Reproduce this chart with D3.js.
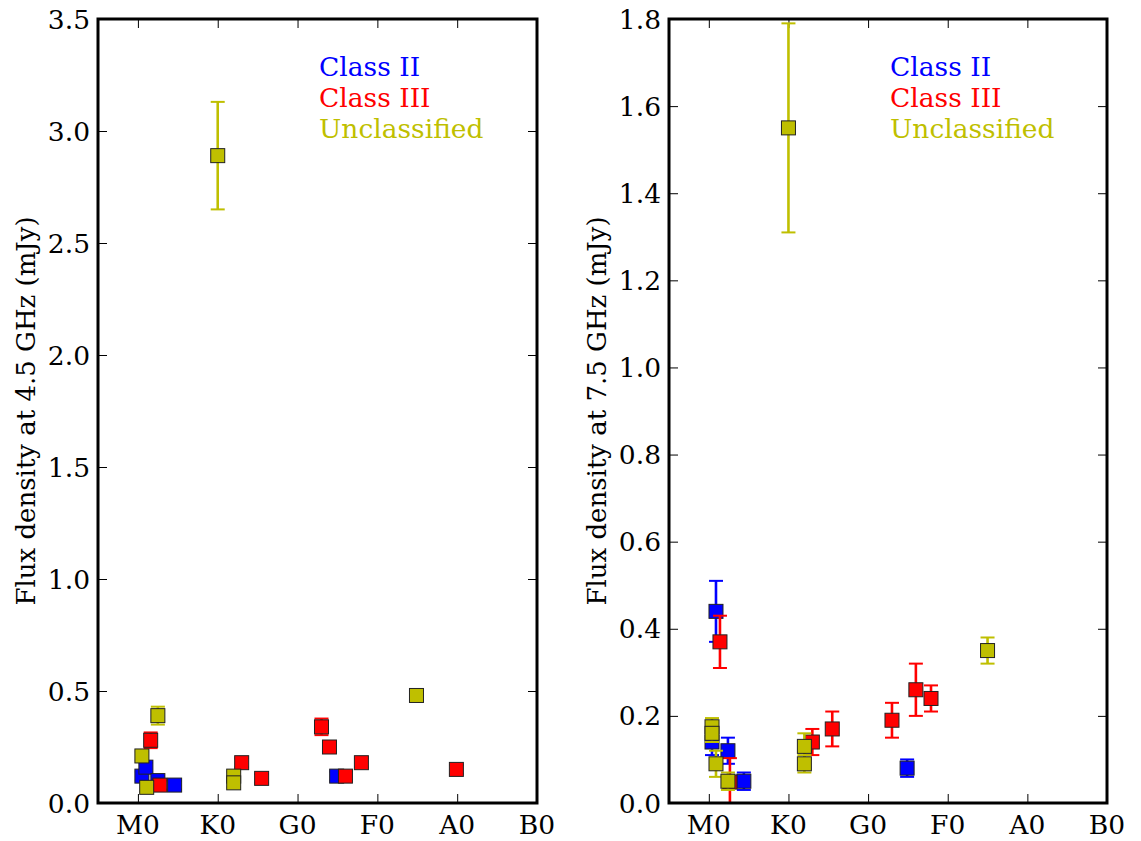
<!DOCTYPE html>
<html>
<head>
<meta charset="utf-8">
<script src="https://cdn.jsdelivr.net/npm/d3@7"></script>
<style>
  html, body { margin: 0; padding: 0; background: #fff; }
  svg { display: block; }
  svg text { font-family: "DejaVu Serif", serif; }
</style>
</head>
<body>
<svg id="chart" width="1141" height="841" font-family="DejaVu Serif, serif"></svg>
<script>
// Spectral type positions: M0=0, K0=10, G0=20, F0=30, A0=40, B0=50
const spectralTicks = [0, 10, 20, 30, 40, 50];
const spectralLabels = ["M0", "K0", "G0", "F0", "A0", "B0"];

const classNames = ["Class II", "Class III", "Unclassified"];
const classColors = ["#0000ff", "#ff0000", "#bfbf00"];

// Flux density at 4.5 GHz (mJy)
const c2x_45 = [0.5, 1.0, 2.5, 4.6, 24.9];
const c2y_45 = [0.12, 0.16, 0.10, 0.08, 0.12];
const c2e_45 = [0.02, 0.02, 0.02, 0.02, 0.02];

const c3x_45 = [1.6, 2.75, 13, 15.5, 23, 24, 26, 28, 39.9];
const c3y_45 = [0.28, 0.08, 0.18, 0.11, 0.34, 0.25, 0.12, 0.18, 0.15];
const c3e_45 = [0.035, 0.02, 0.02, 0.02, 0.037, 0.02, 0.02, 0.02, 0.02];

const ucx_45 = [0.5, 1.1, 2.5, 10, 12, 12, 34.9];
const ucy_45 = [0.21, 0.07, 0.39, 2.89, 0.12, 0.09, 0.48];
const uce_45 = [0.02, 0.02, 0.04, 0.24, 0.02, 0.02, 0.02];

// Flux density at 7.5 GHz (mJy)
const c2x_75 = [0.9, 0.4, 2.4, 4.4, 24.9];
const c2y_75 = [0.44, 0.14, 0.12, 0.05, 0.08];
const c2e_75 = [0.07, 0.03, 0.03, 0.02, 0.02];

const c3x_75 = [1.4, 2.65, 13, 15.5, 23, 26, 27.9];
const c3y_75 = [0.37, 0.048, 0.14, 0.17, 0.19, 0.26, 0.24];
const c3e_75 = [0.06, 0.055, 0.03, 0.04, 0.04, 0.06, 0.03];

const ucx_75 = [0.4, 0.4, 0.9, 2.4, 12, 12, 10, 35];
const ucy_75 = [0.175, 0.16, 0.09, 0.05, 0.13, 0.09, 1.55, 0.35];
const uce_75 = [0.02, 0.02, 0.03, 0.02, 0.03, 0.02, 0.24, 0.03];

const yTicks45 = [0, 0.5, 1.0, 1.5, 2.0, 2.5, 3.0, 3.5];
const yTicks75 = [0, 0.2, 0.4, 0.6, 0.8, 1.0, 1.2, 1.4, 1.6, 1.8];

const FONT = "DejaVu Serif, serif";
const FS = 26.5;

const svg = d3.select("#chart");

function zip(xs, ys, es) {
  return xs.map((x, i) => ({ x: x, y: ys[i], e: es[i] }));
}

function panel(opts) {
  const { left, right, top, bottom, yMax, yTicks, yLabel, series } = opts;
  const x = d3.scaleLinear().domain([-5, 50]).range([left, right]);
  const y = d3.scaleLinear().domain([0, yMax]).range([bottom, top]);
  const g = svg.append("g");

  const clipId = "clip" + Math.round(left);
  svg.append("clipPath").attr("id", clipId)
    .append("rect").attr("x", left).attr("y", top)
    .attr("width", right - left).attr("height", bottom - top);

  const tickLen = 9;
  // inward ticks on all four sides
  const axL = d3.axisRight(y).tickValues(yTicks).tickSize(tickLen).tickFormat("");
  const axR = d3.axisLeft(y).tickValues(yTicks).tickSize(tickLen).tickFormat("");
  const axB = d3.axisTop(x).tickValues(spectralTicks).tickSize(tickLen).tickFormat("");
  const axT = d3.axisBottom(x).tickValues(spectralTicks).tickSize(tickLen).tickFormat("");
  [[axL, `translate(${left},0)`], [axR, `translate(${right},0)`],
   [axB, `translate(0,${bottom})`], [axT, `translate(0,${top})`]].forEach(([ax, tr]) => {
    const a = g.append("g").attr("transform", tr).call(ax);
    a.select(".domain").remove();
    a.selectAll("line").attr("stroke", "#000").attr("stroke-width", 1);
  });

  // tick labels
  g.append("g").selectAll("text").data(yTicks).join("text")
    .attr("x", left - 8).attr("y", d => y(d))
    .attr("dy", "0.36em")
    .attr("text-anchor", "end")
    .attr("font-family", FONT)
    .attr("font-size", FS)
    .text(d => d.toFixed(1));
  g.append("g").selectAll("text").data(spectralTicks).join("text")
    .attr("x", d => x(d)).attr("y", bottom + 31)
    .attr("text-anchor", "middle")
    .attr("font-family", FONT)
    .attr("font-size", FS)
    .text((d, i) => spectralLabels[i]);

  // y-axis title
  g.append("text")
    .attr("transform", `translate(${left - 63},${(top + bottom) / 2}) rotate(-90)`)
    .attr("text-anchor", "middle")
    .attr("font-family", FONT)
    .attr("font-size", 26)
    .text(yLabel);

  // data: error bars + square markers
  const data = g.append("g").attr("clip-path", `url(#${clipId})`);
  const capHalf = 7, size = 14;
  series.forEach(s => {
    const pts = s.points;
    const sg = data.append("g");
    sg.selectAll("line.err").data(pts).join("line").attr("class", "err")
      .attr("x1", d => x(d.x)).attr("x2", d => x(d.x))
      .attr("y1", d => y(d.y - d.e)).attr("y2", d => y(d.y + d.e))
      .attr("stroke", s.color).attr("stroke-width", 2.6);
    [-1, 1].forEach(sign => {
      sg.selectAll("line.cap" + (sign > 0 ? "p" : "m")).data(pts).join("line")
        .attr("class", "cap" + (sign > 0 ? "p" : "m"))
        .attr("x1", d => x(d.x) - capHalf).attr("x2", d => x(d.x) + capHalf)
        .attr("y1", d => y(d.y + sign * d.e)).attr("y2", d => y(d.y + sign * d.e))
        .attr("stroke", s.color).attr("stroke-width", 2);
    });
    sg.selectAll("rect").data(pts).join("rect")
      .attr("x", d => x(d.x) - size / 2).attr("y", d => y(d.y) - size / 2)
      .attr("width", size).attr("height", size)
      .attr("fill", s.color).attr("stroke", "#222").attr("stroke-width", 1);
  });

  // frame
  g.append("rect").attr("x", left).attr("y", top)
    .attr("width", right - left).attr("height", bottom - top)
    .attr("fill", "none").attr("stroke", "#000").attr("stroke-width", 3);

  // legend (text only)
  classNames.forEach((name, i) => {
    g.append("text")
      .attr("x", left + 221).attr("y", 76 + i * 31)
      .attr("font-family", FONT)
      .attr("font-size", FS)
      .attr("fill", classColors[i])
      .text(name);
  });
}

panel({
  left: 98, right: 537, top: 19, bottom: 803, yMax: 3.5, yTicks: yTicks45,
  yLabel: "Flux density at 4.5 GHz (mJy)",
  series: [
    { color: classColors[0], points: zip(c2x_45, c2y_45, c2e_45) },
    { color: classColors[1], points: zip(c3x_45, c3y_45, c3e_45) },
    { color: classColors[2], points: zip(ucx_45, ucy_45, uce_45) }
  ]
});

panel({
  left: 669, right: 1107, top: 19, bottom: 803, yMax: 1.8, yTicks: yTicks75,
  yLabel: "Flux density at 7.5 GHz (mJy)",
  series: [
    { color: classColors[0], points: zip(c2x_75, c2y_75, c2e_75) },
    { color: classColors[1], points: zip(c3x_75, c3y_75, c3e_75) },
    { color: classColors[2], points: zip(ucx_75, ucy_75, uce_75) }
  ]
});
</script>
</body>
</html>
